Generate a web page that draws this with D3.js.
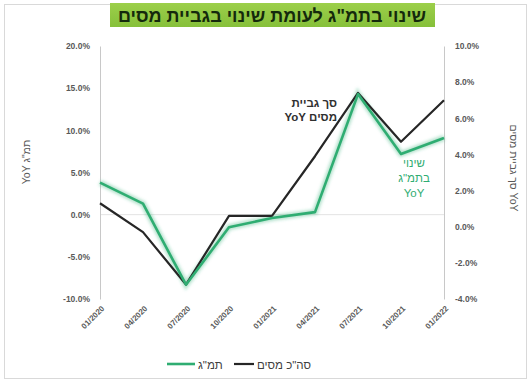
<!DOCTYPE html>
<html>
<head>
<meta charset="utf-8">
<script src="https://cdn.jsdelivr.net/npm/d3@7"></script>
<style>
  html, body { margin: 0; padding: 0; background: #fff; }
  svg { display: block; font-family: "Liberation Sans", Arial, sans-serif; }
</style>
</head>
<body>
<svg id="chart" width="528" height="380"></svg>
<script>
// Quarterly year-over-year change: GDP (left axis) vs total tax collection (right axis)
const quarters = ["01/2020", "04/2020", "07/2020", "10/2020", "01/2021", "04/2021", "07/2021", "10/2021", "01/2022"];
const gdpYoY = [3.8, 1.3, -8.3, -1.5, -0.4, 0.3, 14.3, 7.2, 9.1];
const taxYoY = [1.3, -0.3, -3.2, 0.6, 0.6, 3.9, 7.4, 4.7, 7.0];
const leftTicks = [-10, -5, 0, 5, 10, 15, 20];
const rightTicks = [-4, -2, 0, 2, 4, 6, 8, 10];

const titleText = "שינוי בתמ\"ג לעומת שינוי בגביית מסים";
const leftAxisTitle = "תמ\"ג YoY";
const rightAxisTitle = "סך גביית מסים YoY";
const taxNote = ["סך גביית", "מסים YoY"];
const gdpNote = ["שינוי", "בתמ\"ג", "YoY"];
const legendTax = "סה\"כ מסים";
const legendGdp = "תמ\"ג";

const GREEN = "#2fad72";
const BLACK = "#262626";

const svg = d3.select("#chart");

const plot = { left: 100, right: 444, top: 46, bottom: 299 };

const x = d3.scalePoint().domain(quarters).range([plot.left, plot.right]);
const yL = d3.scaleLinear().domain([-10, 20]).range([plot.bottom, plot.top]);
const yR = d3.scaleLinear().domain([-4, 10]).range([plot.bottom, plot.top]);

// outer frame
svg.append("rect")
  .attr("x", 4.5).attr("y", 4.5).attr("width", 522).attr("height", 374)
  .attr("fill", "#fff").attr("stroke", "#d9d9d9").attr("stroke-width", 1);

// title banner
const defs = svg.append("defs");
const grad = defs.append("linearGradient")
  .attr("id", "bannerFill").attr("x1", 0).attr("y1", 0).attr("x2", 0).attr("y2", 1);
grad.append("stop").attr("offset", "0%").attr("stop-color", "#9ccf4a");
grad.append("stop").attr("offset", "100%").attr("stop-color", "#86c03a");
svg.append("rect")
  .attr("x", 110).attr("y", 3).attr("width", 325).attr("height", 24)
  .attr("fill", "url(#bannerFill)");
svg.append("text")
  .attr("x", 272).attr("y", 21.5)
  .attr("text-anchor", "middle").attr("direction", "rtl")
  .attr("font-size", 18).attr("font-weight", "bold").attr("fill", "#14290c")
  .text(titleText);

// zero line of the left axis
svg.append("line")
  .attr("x1", plot.left).attr("x2", plot.right)
  .attr("y1", yL(0)).attr("y2", yL(0))
  .attr("stroke", "#e3e3e3").attr("stroke-width", 1);

// left axis
const axL = svg.append("g").attr("transform", `translate(${plot.left},0)`)
  .call(d3.axisLeft(yL).tickValues(leftTicks).tickSize(0).tickPadding(10)
    .tickFormat(d => d.toFixed(1) + "%"));
axL.select(".domain").attr("stroke", "#c8c8c8");
axL.selectAll("text").attr("font-size", 8.5).attr("font-weight", "bold")
  .attr("fill", "#595959").attr("font-family", "Liberation Sans, Arial, sans-serif");

// right axis
const axR = svg.append("g").attr("transform", `translate(${plot.right},0)`)
  .call(d3.axisRight(yR).tickValues(rightTicks).tickSize(0).tickPadding(11)
    .tickFormat(d => d.toFixed(1) + "%"));
axR.select(".domain").attr("stroke", "#c8c8c8");
axR.selectAll("text").attr("font-size", 8.5).attr("font-weight", "bold")
  .attr("fill", "#595959").attr("font-family", "Liberation Sans, Arial, sans-serif");

// category labels, rotated
svg.append("g").selectAll("text").data(quarters).join("text")
  .attr("transform", d => `translate(${x(d) + 5},${309}) rotate(-45)`)
  .attr("text-anchor", "end")
  .attr("font-size", 8).attr("font-weight", "bold").attr("fill", "#595959")
  .text(d => d);

// axis titles
svg.append("text")
  .attr("transform", "translate(30,162) rotate(-90)")
  .attr("text-anchor", "middle").attr("direction", "rtl")
  .attr("font-size", 10.5).attr("fill", "#595959")
  .text(leftAxisTitle);
svg.append("text")
  .attr("transform", "translate(510,168) rotate(90)")
  .attr("text-anchor", "middle")
  .attr("font-size", 10.5).attr("fill", "#595959")
  .text(rightAxisTitle);

// series lines
const glow = defs.append("filter").attr("id", "soft")
  .attr("x", "-10%").attr("y", "-10%").attr("width", "120%").attr("height", "120%");
glow.append("feGaussianBlur").attr("stdDeviation", 1.6);

const lineGdp = d3.line().x((d, i) => x(quarters[i])).y(d => yL(d));
const lineTax = d3.line().x((d, i) => x(quarters[i])).y(d => yR(d));

svg.append("path").datum(gdpYoY).attr("d", lineGdp)
  .attr("fill", "none").attr("stroke", GREEN).attr("stroke-opacity", 0.35)
  .attr("stroke-width", 6).attr("filter", "url(#soft)");
svg.append("path").datum(taxYoY).attr("d", lineTax)
  .attr("fill", "none").attr("stroke", BLACK).attr("stroke-width", 2.2)
  .attr("stroke-linejoin", "round");
svg.append("path").datum(gdpYoY).attr("d", lineGdp)
  .attr("fill", "none").attr("stroke", GREEN).attr("stroke-width", 2.6)
  .attr("stroke-linejoin", "round");

// in-chart notes
svg.append("text")
  .attr("text-anchor", "start").attr("direction", "rtl")
  .attr("font-size", 11.5).attr("font-weight", "bold").attr("fill", "#303030")
  .selectAll("tspan").data(taxNote).join("tspan")
  .attr("x", 337).attr("y", (d, i) => 107 + i * 14)
  .text(d => d);
svg.append("text")
  .attr("text-anchor", "middle").attr("direction", "rtl")
  .attr("font-size", 11.5).attr("fill", GREEN)
  .selectAll("tspan").data(gdpNote).join("tspan")
  .attr("x", 414).attr("y", (d, i) => 167 + i * 15)
  .text(d => d);

// legend
const legend = svg.append("g");
legend.append("line").attr("x1", 167).attr("x2", 195).attr("y1", 364).attr("y2", 364)
  .attr("stroke", GREEN).attr("stroke-width", 2.6);
legend.append("text").attr("x", 198).attr("y", 368.5).attr("direction", "ltr")
  .attr("font-size", 11.5).attr("fill", "#404040").text(legendGdp);
legend.append("line").attr("x1", 234).attr("x2", 254).attr("y1", 364).attr("y2", 364)
  .attr("stroke", BLACK).attr("stroke-width", 2.2);
legend.append("text").attr("x", 257).attr("y", 368.5).attr("direction", "ltr")
  .attr("font-size", 11.5).attr("fill", "#404040").text(legendTax);
</script>
</body>
</html>
